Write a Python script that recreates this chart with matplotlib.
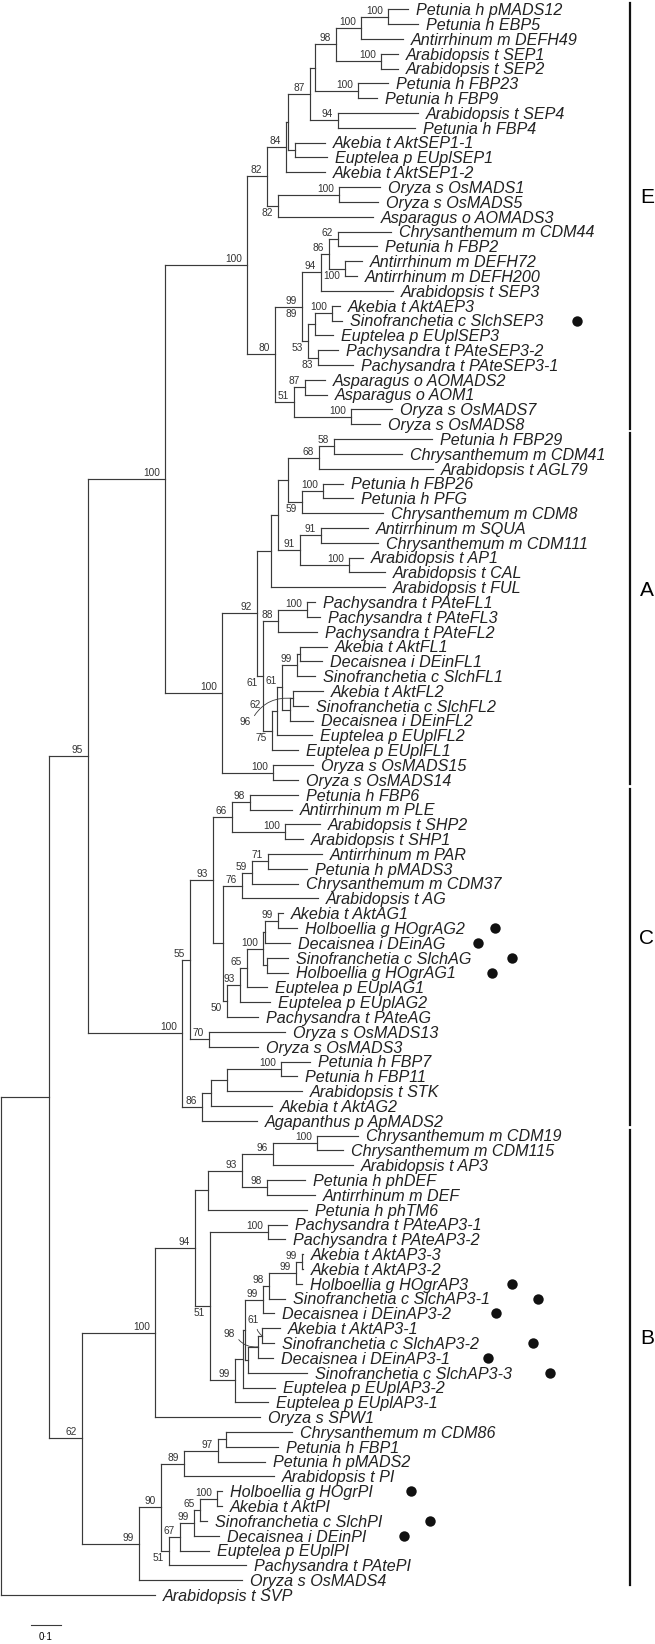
import matplotlib.pyplot as plt

# leaves, top to bottom
leaves = [
    "Petunia h pMADS12", "Petunia h EBP5", "Antirrhinum m DEFH49", "Arabidopsis t SEP1",
    "Arabidopsis t SEP2", "Petunia h FBP23", "Petunia h FBP9", "Arabidopsis t SEP4",
    "Petunia h FBP4", "Akebia t AktSEP1-1", "Euptelea p EUplSEP1", "Akebia t AktSEP1-2",
    "Oryza s OsMADS1", "Oryza s OsMADS5", "Asparagus o AOMADS3", "Chrysanthemum m CDM44",
    "Petunia h FBP2", "Antirrhinum m DEFH72", "Antirrhinum m DEFH200", "Arabidopsis t SEP3",
    "Akebia t AktAEP3", "Sinofranchetia c SlchSEP3", "Euptelea p EUplSEP3",
    "Pachysandra t PAteSEP3-2", "Pachysandra t PAteSEP3-1", "Asparagus o AOMADS2",
    "Asparagus o AOM1", "Oryza s OsMADS7", "Oryza s OsMADS8",
    "Petunia h FBP29", "Chrysanthemum m CDM41", "Arabidopsis t AGL79", "Petunia h FBP26",
    "Petunia h PFG", "Chrysanthemum m CDM8", "Antirrhinum m SQUA", "Chrysanthemum m CDM111",
    "Arabidopsis t AP1", "Arabidopsis t CAL", "Arabidopsis t FUL", "Pachysandra t PAteFL1",
    "Pachysandra t PAteFL3", "Pachysandra t PAteFL2", "Akebia t AktFL1", "Decaisnea i DEinFL1",
    "Sinofranchetia c SlchFL1", "Akebia t AktFL2", "Sinofranchetia c SlchFL2",
    "Decaisnea i DEinFL2", "Euptelea p EUplFL2", "Euptelea p EUplFL1", "Oryza s OsMADS15",
    "Oryza s OsMADS14",
    "Petunia h FBP6", "Antirrhinum m PLE", "Arabidopsis t SHP2", "Arabidopsis t SHP1",
    "Antirrhinum m PAR", "Petunia h pMADS3", "Chrysanthemum m CDM37", "Arabidopsis t AG",
    "Akebia t AktAG1", "Holboellia g HOgrAG2", "Decaisnea i DEinAG", "Sinofranchetia c SlchAG",
    "Holboellia g HOgrAG1", "Euptelea p EUplAG1", "Euptelea p EUplAG2", "Pachysandra t PAteAG",
    "Oryza s OsMADS13", "Oryza s OsMADS3", "Petunia h FBP7", "Petunia h FBP11",
    "Arabidopsis t STK", "Akebia t AktAG2", "Agapanthus p ApMADS2",
    "Chrysanthemum m CDM19", "Chrysanthemum m CDM115", "Arabidopsis t AP3", "Petunia h phDEF",
    "Antirrhinum m DEF", "Petunia h phTM6", "Pachysandra t PAteAP3-1", "Pachysandra t PAteAP3-2",
    "Akebia t AktAP3-3", "Akebia t AktAP3-2", "Holboellia g HOgrAP3", "Sinofranchetia c SlchAP3-1",
    "Decaisnea i DEinAP3-2", "Akebia t AktAP3-1", "Sinofranchetia c SlchAP3-2",
    "Decaisnea i DEinAP3-1", "Sinofranchetia c SlchAP3-3", "Euptelea p EUplAP3-2",
    "Euptelea p EUplAP3-1", "Oryza s SPW1", "Chrysanthemum m CDM86", "Petunia h FBP1",
    "Petunia h pMADS2", "Arabidopsis t PI", "Holboellia g HOgrPI", "Akebia t AktPI",
    "Sinofranchetia c SlchPI", "Decaisnea i DEinPI", "Euptelea p EUplPI", "Pachysandra t PAtePI",
    "Oryza s OsMADS4", "Arabidopsis t SVP",
]

# distance of each leaf tip from the root
leaf_len = [
    1.357, 1.390, 1.340, 1.323, 1.323, 1.290, 1.253, 1.390, 1.380, 1.080, 1.087, 1.080,
    1.263, 1.257, 1.240, 1.300, 1.253, 1.203, 1.187, 1.307, 1.130, 1.137, 1.107, 1.123,
    1.173, 1.080, 1.087, 1.303, 1.263,
    1.437, 1.337, 1.440, 1.140, 1.173, 1.273, 1.223, 1.257, 1.207, 1.280, 1.280, 1.047,
    1.063, 1.053, 1.087, 1.070, 1.047, 1.073, 1.023, 1.040, 1.037, 0.990, 1.040, 0.990,
    0.990, 0.970, 1.063, 1.007, 1.070, 1.020, 0.990, 1.057, 0.940, 0.987, 0.963, 0.957,
    0.957, 0.887, 0.897, 0.857, 0.947, 0.857, 1.030, 0.987, 1.003, 0.903, 0.853,
    1.190, 1.140, 1.173, 1.013, 1.047, 1.020, 0.953, 0.947, 1.007, 1.007, 1.003, 0.947,
    0.910, 0.930, 0.910, 0.907, 1.020, 0.913, 0.890, 0.863, 0.970, 0.923, 0.880, 0.910,
    0.737, 0.737, 0.687, 0.727, 0.693, 0.817, 0.803, 0.513,
]

# internal nodes (children listed before parents)
node_ids = [
    "na", "nb", "nc", "nd", "ne", "nf", "ng", "nh", "ni", "nj", "nk", "nl", "nm", "nn",
    "no", "np", "nq", "nr", "ns", "nt", "nu", "nv", "nx", "ny", "nz", "naa", "nab", "E",
    "a1", "a2", "a3", "a4", "a5", "a6", "a7", "a8", "a9", "a10", "a13", "a14", "a16", "a17",
    "a18", "a19", "a20", "a21", "a22", "a12", "a11", "a23", "A", "EA",
    "c1", "c2", "c3", "c4", "c5", "c6", "c7", "c8", "c9", "c10", "c11", "c12", "c13", "c14",
    "c15", "c16", "c17", "c18", "c19", "c20", "c21", "C", "EAC",
    "b1", "b2", "b3", "b4", "b5", "b6", "b7", "b8", "b9", "b10", "bp", "bq", "br", "bt",
    "bu", "by", "b13", "b14", "b15", "b16", "b17", "b18", "b19", "b20", "b21", "b22", "b23",
    "b24", "b25", "B", "R2", "root",
]
node_kids = [
    (0, 1), ("na", 2), (3, 4), ("nb", "nc"), (5, 6), ("nd", "ne"), (7, 8), ("nf", "ng"),
    (9, 10), ("nh", "ni"), ("nj", 11), (12, 13), ("nl", 14), ("nk", "nm"),
    (15, 16), (17, 18), ("no", "np"), ("nq", 19), (20, 21), ("ns", 22), (23, 24),
    ("nt", "nu"), ("nr", "nv"), (25, 26), (27, 28), ("ny", "nz"), ("nx", "naa"), ("nn", "nab"),
    (29, 30), ("a1", 31), (32, 33), ("a3", 34), ("a2", "a4"), (35, 36), (37, 38), ("a6", "a7"),
    ("a5", "a8"), ("a9", 39), (40, 41), ("a13", 42), (43, 44), ("a16", 45), (46, 47),
    ("a18", 48), ("a17", "a19"), ("a20", 49), ("a21", 50), ("a14", "a22"), ("a10", "a12"),
    (51, 52), ("a11", "a23"), ("E", "A"),
    (53, 54), (55, 56), ("c1", "c2"), (57, 58), ("c4", 59), ("c5", 60), (61, 62), ("c7", 63),
    (64, 65), ("c8", "c9"), ("c10", 66), ("c11", 67), ("c12", 68), ("c6", "c13"),
    ("c3", "c14"), (69, 70), ("c15", "c16"), (71, 72), ("c18", 73), ("c19", 74), ("c20", 75),
    ("c17", "c21"), ("EA", "C"),
    (76, 77), ("b1", 78), (79, 80), ("b2", "b3"), ("b4", 81), (82, 83), (84, 85), ("b7", 86),
    ("b8", 87), ("b9", 88), (89, 90), ("bp", 91), ("bq", 92), ("b10", "br"), ("bt", 93),
    ("bu", 94), ("b6", "by"), ("b5", "b13"), ("b14", 95), (96, 97), ("b16", 98), ("b17", 99),
    (100, 101), ("b19", 102), ("b20", 103), ("b21", 104), ("b22", 105), ("b18", "b23"),
    ("b24", 106), ("b15", "b25"), ("EAC", "B"), ("R2", 107),
]
node_len = [
    1.290, 1.200, 1.267, 1.117, 1.190, 1.047, 1.123, 1.030, 0.980, 0.957, 0.950, 1.127,
    0.923, 0.887, 1.123, 1.147, 1.093, 1.067, 1.103, 1.047, 1.057, 1.023, 1.003, 1.013,
    1.167, 0.977, 0.913, 0.820,
    1.110, 1.060, 1.073, 1.003, 0.957, 1.067, 1.160, 0.997, 0.923, 0.900, 1.020, 0.923,
    0.997, 0.987, 0.973, 0.963, 0.937, 0.920, 0.903, 0.873, 0.853, 0.907, 0.737, 0.547,
    0.830, 0.947, 0.770, 0.890, 0.837, 0.803, 0.923, 0.880, 0.887, 0.873, 0.820, 0.797,
    0.753, 0.740, 0.707, 0.693, 0.630, 0.933, 0.753, 0.700, 0.670, 0.603, 0.290,
    1.053, 0.907, 0.887, 0.803, 0.690, 0.890, 1.003, 0.983, 0.893, 0.873, 0.870, 0.857,
    0.823, 0.813, 0.807, 0.780, 0.697, 0.647, 0.513, 0.750, 0.723, 0.610, 0.720, 0.663,
    0.643, 0.597, 0.560, 0.533, 0.460, 0.270, 0.160, 0.0,
]
node_boot = [
    "100", "100", "100", "98", "100", "", "94", "87", "", "", "84", "100", "82", "82",
    "62", "100", "86", "94", "100", "", "83", "53", "99|89", "87", "100", "51", "80", "100",
    "58", "68", "100", "59", "", "91", "100", "91", "", "", "100", "88", "", "99",
    "96", "", "61", "62", "75", "61", "92", "100", "100", "100",
    "98", "100", "66", "71", "59", "76", "99", "", "", "100", "65", "93", "50", "",
    "93", "70", "55", "100", "", "", "86", "100", "95",
    "100", "96", "98", "93", "", "100", "99", "99", "98", "99", "61", "98", "", "",
    "", "99", "51", "94", "100", "", "97", "89", "100", "65", "99", "67", "51",
    "90", "99", "62", "", "",
]

# marked sequences
dot_leaf = [21, 62, 63, 64, 65, 86, 87, 88, 90, 91, 92, 100, 102, 103]
dot_x = [1.920, 1.647, 1.590, 1.703, 1.637, 1.703, 1.790, 1.650, 1.773, 1.623, 1.830,
         1.367, 1.430, 1.343]

clade_names = ["E", "A", "C", "B"]
clade_first = [0, 29, 53, 76]
clade_last = [28, 52, 75, 106]

# ---- layout ----
PXU = 300.0          # pixels per unit of distance
Y0, DY = 9.3, 14.82  # pixel row of first leaf, pixels between leaves
PT = 72 / 100        # points per pixel
LC = "#3a3a3a"
plt.rcParams["font.family"] = ["Liberation Sans", "DejaVu Sans"]

fig = plt.figure(figsize=(6.55, 16.44), dpi=100)
ax = fig.add_axes([0, 0, 1, 1])
ax.axis("off")
ax.set_xlim(-1 / PXU, 654 / PXU)
ax.set_ylim((1644 - Y0) / DY, -Y0 / DY)

depth = {i: v for i, v in enumerate(leaf_len)}
ypos = {i: float(i) for i in range(len(leaves))}
kids = {}
for nid, k, d in zip(node_ids, node_kids, node_len):
    kids[nid] = k
    depth[nid] = d
    ypos[nid] = (ypos[k[0]] + ypos[k[-1]]) / 2

for nid in node_ids:
    k = kids[nid]
    x = depth[nid]
    ax.plot([x, x], [ypos[k[0]], ypos[k[-1]]], color=LC, lw=0.85, solid_capstyle="projecting")
    for c in k:
        ax.plot([x, depth[c]], [ypos[c], ypos[c]], color=LC, lw=0.85, solid_capstyle="projecting")

for i, name in enumerate(leaves):
    ax.annotate(name, xy=(leaf_len[i], i), xytext=(8 * PT, -5.8 * PT),
                textcoords="offset points", ha="left", va="baseline",
                style="italic", fontsize=11.6, color="#222222")

# support values
below = {"nm", "np", "nu", "nv", "a4", "a12", "a22", "c13", "b13", "b23"}
shift = {"a21": -11}
leader = {"a18": (-42, 23.5, -0.35), "bp": (-3, -15.5, 0.45), "bq": (-23, -13, 0.35)}
SFS = 7.3
for nid, b in zip(node_ids, node_boot):
    if not b:
        continue
    x, y = depth[nid], ypos[nid]
    if nid in leader:
        dx, dy, rad = leader[nid]
        ax.annotate(b, xy=(x, y), xytext=(dx * PT, -dy * PT), textcoords="offset points",
                    ha="right", va="center", fontsize=SFS, color="#333333",
                    arrowprops=dict(arrowstyle="-", lw=0.6, color=LC, shrinkA=1, shrinkB=0,
                                    relpos=(1, 0.5), connectionstyle="arc3,rad=%s" % rad))
        continue
    parts = b.split("|")
    dx = -5 + shift.get(nid, 0)
    dy = -10 if nid in below else 3
    ax.annotate(parts[0], xy=(x, y), xytext=(dx * PT, dy * PT), textcoords="offset points",
                ha="right", va="baseline", fontsize=SFS, color="#333333")
    if len(parts) > 1:
        ax.annotate(parts[1], xy=(x, y), xytext=(dx * PT, -10 * PT), textcoords="offset points",
                    ha="right", va="baseline", fontsize=SFS, color="#333333")

ax.plot(dot_x, dot_leaf, "o", ms=7.5, color="#111111", mec="none")

# clade bars
bx = 629 / PXU
for name, f, l in zip(clade_names, clade_first, clade_last):
    ax.plot([bx, bx], [f - 0.4, l + 0.3], color="#111111", lw=1.6)
    ax.text(bx + 17 / PXU, (f + l) / 2 - 1.3, name, fontsize=15, ha="center", va="center")

# scale bar
ysb = (1625 - Y0) / DY
ax.plot([0.1, 0.2], [ysb, ysb], color=LC, lw=0.8)
ax.text(0.15, (1637 - Y0) / DY, "0\u00b71", fontsize=7, ha="center", va="center")

fig.savefig("out.png", dpi=100)
